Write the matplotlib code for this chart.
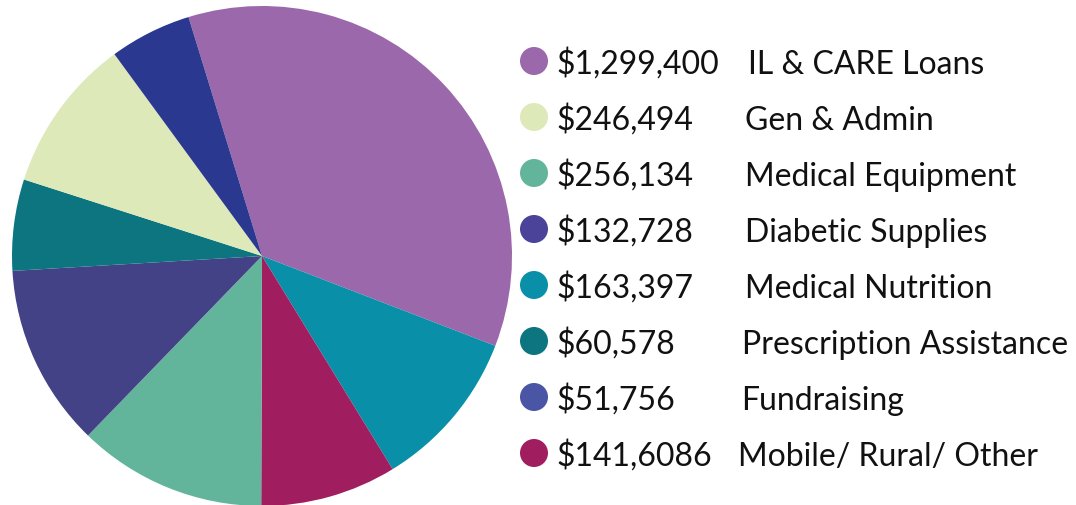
import matplotlib.pyplot as plt
from matplotlib.patches import Circle

# legend entries (top to bottom)
amounts = ['$1,299,400', '$246,494', '$256,134', '$132,728',
           '$163,397', '$60,578', '$51,756', '$141,6086']
labels = ['IL & CARE Loans', 'Gen & Admin', 'Medical Equipment', 'Diabetic Supplies',
          'Medical Nutrition', 'Prescription Assistance', 'Fundraising', 'Mobile/ Rural/ Other']
legend_colors = ['#9b68ab', '#dde9b8', '#62b59b', '#4a4399',
                 '#0a8fa9', '#0c7580', '#4a55a5', '#a01e60']
label_x = [748, 745, 745, 745, 745, 742, 741, 738]

# pie slices, clockwise from the top-left (shares, in %)
slice_names = ['IL & CARE Loans', 'Medical Nutrition', 'Mobile/ Rural/ Other', 'Medical Equipment',
               'Diabetic Supplies', 'Prescription Assistance', 'Gen & Admin', 'Fundraising']
slice_shares = [35.6, 10.4, 8.8, 12.2, 11.8, 5.9, 10.0, 5.3]
slice_colors = ['#9b68ab', '#0a8fa9', '#a01e60', '#62b59b',
                '#444286', '#0c7580', '#dde9b8', '#2b388f']

W, H = 1076, 506
fig = plt.figure(figsize=(W / 100, H / 100), dpi=100)
plt.rcParams['font.family'] = ['Lato', 'DejaVu Sans']

# pie axes: centre (262, 257) px, radius 250 px
ax = fig.add_axes([12 / W, (H - 507) / H, 500 / W, 500 / H])
ax.pie(slice_shares, colors=slice_colors, startangle=107.1, counterclock=False,
       radius=1, wedgeprops=dict(linewidth=0))
ax.set_xlim(-1, 1)
ax.set_ylim(-1, 1)
ax.set_aspect('equal')
ax.axis('off')

# legend drawn in pixel coordinates
lax = fig.add_axes([0, 0, 1, 1])
lax.set_xlim(0, W)
lax.set_ylim(H, 0)
lax.axis('off')
for i in range(len(amounts)):
    cy = 62 + 56 * i
    lax.add_patch(Circle((534, cy), 14, color=legend_colors[i], lw=0))
    lax.text(556, cy + 12, amounts[i], fontsize=23, va='baseline', ha='left', color='#111111')
    lax.text(label_x[i], cy + 12, labels[i], fontsize=23, va='baseline', ha='left', color='#111111')

fig.savefig('out.png', dpi=100)
